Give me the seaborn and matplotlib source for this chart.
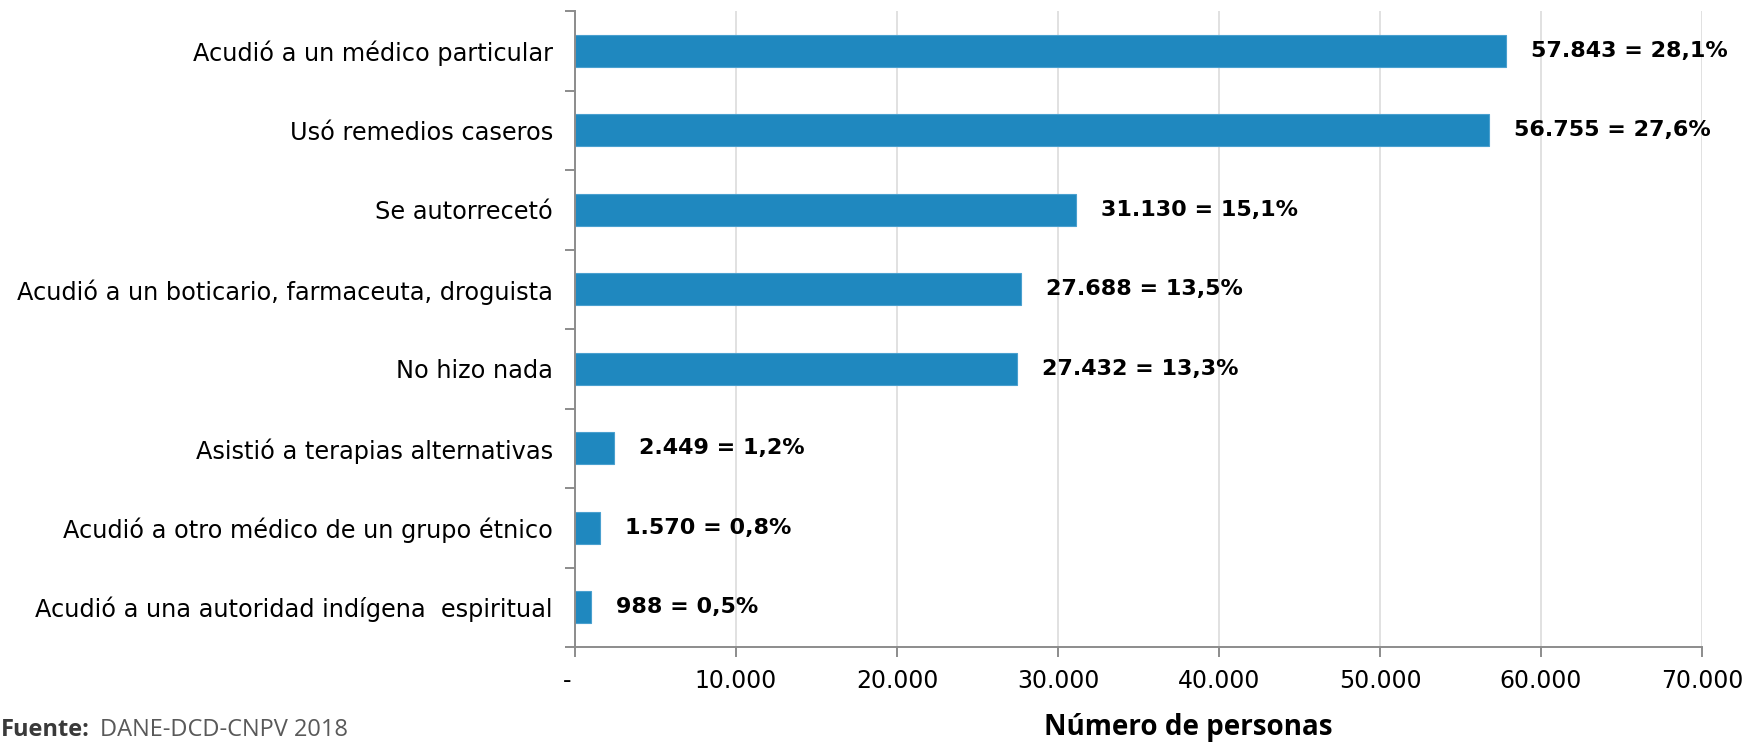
import matplotlib
matplotlib.use("Agg")
import matplotlib.pyplot as plt
from matplotlib.ticker import FixedLocator, FuncFormatter
import seaborn as sns
import pandas as pd

# Data: health-care action taken, number of people and share
categorias = [
    "Acudió a un médico particular",
    "Usó remedios caseros",
    "Se autorrecetó",
    "Acudió a un boticario, farmaceuta, droguista",
    "No hizo nada",
    "Asistió a terapias alternativas",
    "Acudió a otro médico de un grupo étnico",
    "Acudió a una autoridad indígena  espiritual",
]
personas = [57843, 56755, 31130, 27688, 27432, 2449, 1570, 988]
porcentajes = ["28,1", "27,6", "15,1", "13,5", "13,3", "1,2", "0,8", "0,5"]
ticks_x = [0, 10000, 20000, 30000, 40000, 50000, 60000, 70000]

sns.set_style("white")
plt.rcParams["font.family"] = ["DejaVu Sans"]

BAR = "#1F88BF"
SPINE = "#8C8C8C"
GRID = "#D9D9D9"

df = pd.DataFrame({"categoria": categorias, "personas": personas})

fig = plt.figure(figsize=(17.44, 7.42), dpi=100)
ax = fig.add_axes([575 / 1744, 1 - 647 / 742, (1702 - 575) / 1744, (647 - 11) / 742])

sns.barplot(data=df, x="personas", y="categoria", orient="h", color=BAR,
            width=0.4, saturation=1, edgecolor="#4AA0CF", linewidth=0.8, ax=ax)

ax.set_xlim(0, 70000)
ax.set_ylim(len(categorias) - 0.5, -0.5)

# x axis: thousands with dot separator, zero drawn as a dash
def fmt_miles(v, pos):
    if v == 0:
        return "-  "
    return f"{int(v):,}".replace(",", ".")

ax.xaxis.set_major_locator(FixedLocator(ticks_x))
ax.xaxis.set_major_formatter(FuncFormatter(fmt_miles))
ax.tick_params(axis="x", which="major", direction="out", length=7, width=1.4,
               color=SPINE, labelsize=17, pad=9, labelcolor="#000000", bottom=True)

# y axis: labels at the bar centres, tick marks between categories
ax.set_yticks(range(len(categorias)))
ax.set_yticklabels(categorias)
ax.tick_params(axis="y", which="major", length=0, labelsize=17.3, pad=16, labelcolor="#000000")
ax.yaxis.set_minor_locator(FixedLocator([i - 0.5 for i in range(len(categorias) + 1)]))
ax.tick_params(axis="y", which="minor", direction="out", length=7, width=1.4,
               color=SPINE, left=True)

ax.set_xlabel("")
ax.set_ylabel("")

ax.grid(axis="x", color=GRID, linewidth=1.1)
ax.grid(axis="y", visible=False)
ax.set_axisbelow(True)

for side in ["top", "right"]:
    ax.spines[side].set_visible(False)
for side in ["left", "bottom"]:
    ax.spines[side].set_color(SPINE)
    ax.spines[side].set_linewidth(1.4)

# value labels at the end of each bar
for i, (v, p) in enumerate(zip(personas, porcentajes)):
    etiqueta = f"{v:,}".replace(",", ".") + f" = {p}%"
    ax.annotate(etiqueta, xy=(v, i), xytext=(18, 0), textcoords="offset points",
                ha="left", va="center", fontsize=16, fontweight="bold", color="#000000")

# axis title and source note
fig.text(1188 / 1744, 7 / 742, "Número de personas", ha="center", va="baseline",
         fontsize=20, fontweight="bold", family=["Open Sans", "DejaVu Sans"], color="#000000")
fig.text(1 / 1744, 0.5 / 742, "Fuente:", ha="left", va="bottom", fontsize=17,
         fontweight="bold", family=["Open Sans", "DejaVu Sans"], color="#3A3A3A")
fig.text(100 / 1744, 0.5 / 742, "DANE-DCD-CNPV 2018", ha="left", va="bottom", fontsize=17,
         family=["Open Sans", "DejaVu Sans"], color="#595959")

fig.savefig("out.png", dpi=100, facecolor="white")
